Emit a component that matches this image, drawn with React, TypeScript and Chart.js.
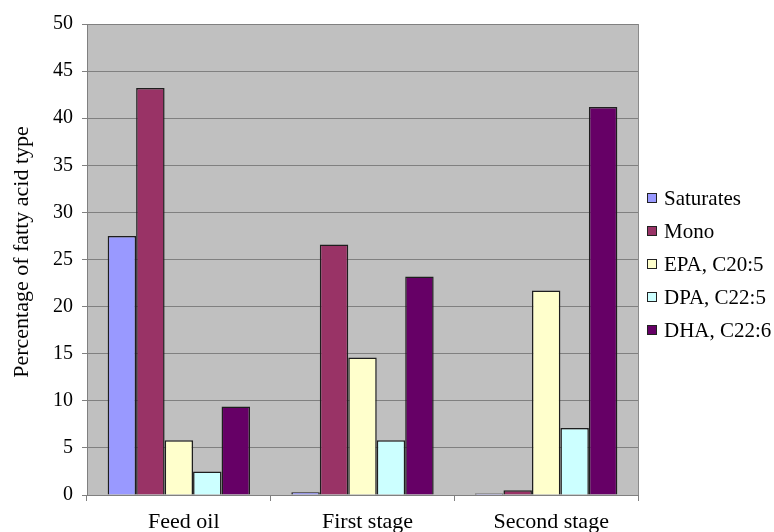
import React, { useEffect, useRef } from "react";
import { Chart, registerables } from "chart.js";

Chart.register(...registerables);

const categories = ["Feed oil", "First stage", "Second stage"];
const seriesNames = ["Saturates", "Mono", "EPA, C20:5", "DPA, C22:5", "DHA, C22:6"];
const saturates = [27.5, 0.3, 0.15];
const mono = [43.2, 26.6, 0.5];
const epa = [5.8, 14.6, 21.7];
const dpa = [2.5, 5.8, 7.1];
const dha = [9.4, 23.2, 41.2];
const seriesColors = ["#9999ff", "#993366", "#ffffcc", "#ccffff", "#660066"];
const yMin = 0;
const yMax = 50;
const yStep = 5;
const yTitle = "Percentage of fatty acid type";

const FONT = "'Liberation Serif', 'Times New Roman', serif";
const TICK_SIZE = 20;
const LABEL_SIZE = 22;
const LEGEND_SIZE = 21;

const plotBg = {
  id: "plotBg",
  beforeDraw(chart: any) {
    const { ctx, chartArea } = chart;
    ctx.save();
    ctx.fillStyle = "#c0c0c0";
    ctx.fillRect(chartArea.left, chartArea.top, chartArea.right - chartArea.left, chartArea.bottom - chartArea.top);
    ctx.restore();
  },
  afterDraw(chart: any) {
    const { ctx, chartArea } = chart;
    ctx.save();
    ctx.strokeStyle = "#8a8a8a";
    ctx.lineWidth = 1;
    ctx.beginPath();
    ctx.moveTo(Math.round(chartArea.right) + 0.5, chartArea.top);
    ctx.lineTo(Math.round(chartArea.right) + 0.5, chartArea.bottom);
    ctx.stroke();
    // y axis title
    ctx.translate(22, 252);
    ctx.rotate(-Math.PI / 2);
    ctx.font = `normal ${LABEL_SIZE}px "Liberation Serif", serif`;
    ctx.fillStyle = "#000000";
    ctx.textAlign = "center";
    ctx.textBaseline = "middle";
    ctx.fillText(yTitle, 0, 0);
    ctx.restore();
  },
};

const customLegend = {
  id: "customLegend",
  afterDraw(chart: any) {
    const { ctx } = chart;
    const x = 647;
    const y0 = 198;
    const gap = 33;
    ctx.save();
    ctx.font = `normal ${LEGEND_SIZE}px "Liberation Serif", serif`;
    ctx.textBaseline = "middle";
    ctx.textAlign = "left";
    chart.data.datasets.forEach((ds: any, i: number) => {
      const cy = y0 + i * gap;
      ctx.fillStyle = ds.backgroundColor;
      ctx.fillRect(x, cy - 5, 10, 10);
      ctx.strokeStyle = "#222222";
      ctx.lineWidth = 1;
      ctx.strokeRect(x + 0.5, cy - 4.5, 9, 9);
      ctx.fillStyle = "#000000";
      ctx.fillText(ds.label, 664, cy + 1);
    });
    ctx.restore();
  },
};

export default function App() {
  const ref = useRef<HTMLCanvasElement | null>(null);

  useEffect(() => {
    document.body.style.margin = "0";
    const canvas = ref.current;
    if (!canvas) return;
    const values = [saturates, mono, epa, dpa, dha];
    const chart = new Chart(canvas, {
      type: "bar",
      data: {
        labels: categories,
        datasets: seriesNames.map((name, i) => ({
          label: name,
          data: values[i],
          backgroundColor: seriesColors[i],
          borderColor: "#1e1e1e",
          borderWidth: 1.5,
          categoryPercentage: 0.775,
          barPercentage: 1,
        })),
      },
      options: {
        responsive: false,
        animation: false,
        layout: { padding: { top: 24, right: 136, left: 0, bottom: 0 } },
        plugins: {
          legend: { display: false },
          tooltip: { enabled: false },
        },
        scales: {
          x: {
            offset: true,
            grid: {
              display: true,
              offset: true,
              drawOnChartArea: false,
              drawTicks: true,
              tickLength: 6,
              color: "#808080",
            },
            border: { display: true, color: "#808080" },
            ticks: {
              color: "#000000",
              font: { family: FONT, size: LABEL_SIZE },
              padding: 8,
              labelOffset: 5,
            },
            afterFit: (scale: any) => {
              scale.height = 37;
            },
          },
          y: {
            min: yMin,
            max: yMax,
            ticks: {
              stepSize: yStep,
              color: "#000000",
              font: { family: FONT, size: TICK_SIZE },
              padding: 9,
            },
            grid: {
              color: "#808080",
              tickLength: 5,
              drawTicks: true,
            },
            border: { display: true, color: "#808080" },
            title: { display: false },
            afterFit: (scale: any) => {
              scale.width = 87;
            },
          },
        },
      },
      plugins: [plotBg, customLegend],
    });
    return () => chart.destroy();
  }, []);

  return (
    <div style={{ width: 774, height: 532 }}>
      <canvas ref={ref} width={774} height={532} style={{ display: "block" }} />
    </div>
  );
}
